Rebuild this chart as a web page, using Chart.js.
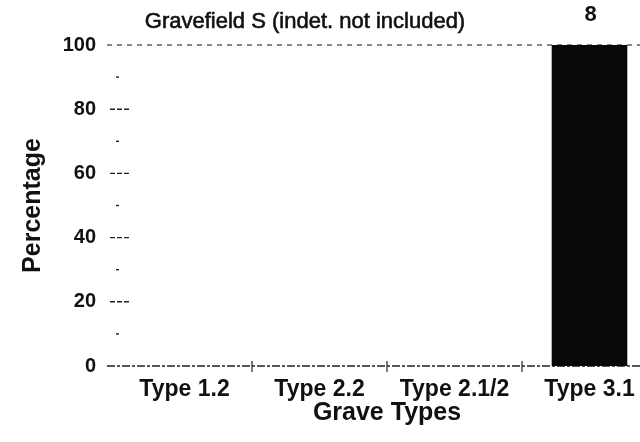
<!DOCTYPE html>
<html>
<head>
<meta charset="utf-8">
<script src="https://cdn.jsdelivr.net/npm/chart.js@4/dist/chart.umd.min.js"></script>
<style>
  html, body { margin: 0; padding: 0; background: #fff; overflow: hidden; width: 640px; height: 442px; }
  canvas { display: block; }
</style>
</head>
<body>
<canvas id="c" width="660" height="442"></canvas>
<script>
// Grave type shares for Gravefield S, indeterminate graves left out
const categories = ['Type 1.2', 'Type 2.2', 'Type 2.1/2', 'Type 3.1'];
const percentages = [0, 0, 0, 100];
const counts = [0, 0, 0, 8];
const yTickLabels = [0, 20, 40, 60, 80, 100];
const chartTitle = 'Gravefield S (indet. not included)';

const FONT = '"Liberation Sans", Arial, Helvetica, sans-serif';
const INK = '#111';

// Dashed frame lines at 0 and 100 plus the small tick marks on both axes
const axisMarks = {
  id: 'axisMarks',
  beforeDatasetsDraw(chart) {
    const { ctx, scales: { x, y } } = chart;
    const y0 = y.getPixelForValue(0);
    const y100 = y.getPixelForValue(100);
    const left = chart.chartArea.left - 10;
    ctx.save();
    ctx.strokeStyle = '#222';
    ctx.lineWidth = 1.6;
    ctx.setLineDash([8, 2, 3, 2]);
    ctx.beginPath(); ctx.moveTo(left, y0); ctx.lineTo(chart.width, y0); ctx.stroke();
    ctx.strokeStyle = '#555';
    ctx.lineWidth = 1.4;
    ctx.setLineDash([5, 5]);
    ctx.beginPath(); ctx.moveTo(left, y100); ctx.lineTo(chart.width, y100); ctx.stroke();

    // y ticks: long dashed marks at labelled values, dots in between
    ctx.strokeStyle = '#222';
    y.ticks.forEach(t => {
      const py = y.getPixelForValue(t.value);
      if (t.value === 0 || t.value === 100) return;
      ctx.beginPath();
      if (yTickLabels.includes(t.value)) {
        ctx.setLineDash([5, 2]);
        ctx.moveTo(chart.chartArea.left - 7, py);
        ctx.lineTo(chart.chartArea.left + 12, py);
      } else {
        ctx.setLineDash([]);
        ctx.moveTo(chart.chartArea.left - 1, py);
        ctx.lineTo(chart.chartArea.left + 2, py);
      }
      ctx.stroke();
    });

    // x ticks on the category boundaries
    ctx.setLineDash([]);
    ctx.lineWidth = 1.2;
    for (let i = 1; i < categories.length; i++) {
      const px = (x.getPixelForValue(i - 1) + x.getPixelForValue(i)) / 2;
      ctx.beginPath();
      ctx.moveTo(px, y0 - 5);
      ctx.lineTo(px, y0 + 6);
      ctx.stroke();
    }
    ctx.restore();
  }
};

// Number of graves written above each non-empty bar
const countLabels = {
  id: 'countLabels',
  afterDatasetsDraw(chart) {
    const { ctx } = chart;
    const meta = chart.getDatasetMeta(0);
    ctx.save();
    ctx.fillStyle = INK;
    ctx.font = 'bold 22px ' + FONT;
    ctx.textAlign = 'center';
    ctx.textBaseline = 'alphabetic';
    meta.data.forEach((bar, i) => {
      if (!counts[i]) return;
      ctx.fillText(String(counts[i]), bar.x + 1, bar.y - 24);
    });
    ctx.restore();
  }
};

// Heading placed over the left part of the plot
const heading = {
  id: 'heading',
  afterDraw(chart) {
    const { ctx } = chart;
    ctx.save();
    ctx.fillStyle = INK;
    ctx.strokeStyle = INK;
    ctx.lineWidth = 0.6;
    ctx.font = '22px ' + FONT;
    ctx.textAlign = 'center';
    ctx.textBaseline = 'alphabetic';
    ctx.fillText(chartTitle, 305, 28);
    ctx.strokeText(chartTitle, 305, 28);
    ctx.restore();
  }
};

new Chart(document.getElementById('c'), {
  type: 'bar',
  data: {
    labels: categories,
    datasets: [{
      data: percentages,
      backgroundColor: '#080808',
      borderWidth: 0,
      barPercentage: 0.56,
      categoryPercentage: 1
    }]
  },
  options: {
    responsive: false,
    animation: false,
    devicePixelRatio: 1,
    layout: { padding: { top: 45, right: 3, left: 0, bottom: 0 } },
    plugins: {
      legend: { display: false },
      title: { display: false },
      tooltip: { enabled: false }
    },
    scales: {
      x: {
        offset: true,
        grid: { display: false, drawTicks: false },
        border: { display: false },
        ticks: {
          color: INK,
          font: { family: FONT, size: 23, weight: 'bold' },
          padding: 10,
          maxRotation: 0,
          autoSkip: false
        },
        title: {
          display: true,
          text: 'Grave Types',
          color: INK,
          font: { family: FONT, size: 25, weight: 'bold' },
          padding: { top: 0, bottom: 14 }
        },
        afterFit(scale) { scale.height = 76; }
      },
      y: {
        min: 0,
        max: 100,
        grid: { display: false, drawTicks: false },
        border: { display: false },
        ticks: {
          stepSize: 10,
          color: INK,
          font: { family: FONT, size: 20, weight: 'bold' },
          padding: 21,
          callback: v => (yTickLabels.includes(v) ? String(v) : '')
        },
        title: {
          display: true,
          text: 'Percentage',
          color: INK,
          font: { family: FONT, size: 25, weight: 'bold' },
          padding: { top: 18, bottom: 0 }
        },
        afterFit(scale) { scale.width = 117; }
      }
    }
  },
  plugins: [axisMarks, countLabels, heading]
});
</script>
</body>
</html>
